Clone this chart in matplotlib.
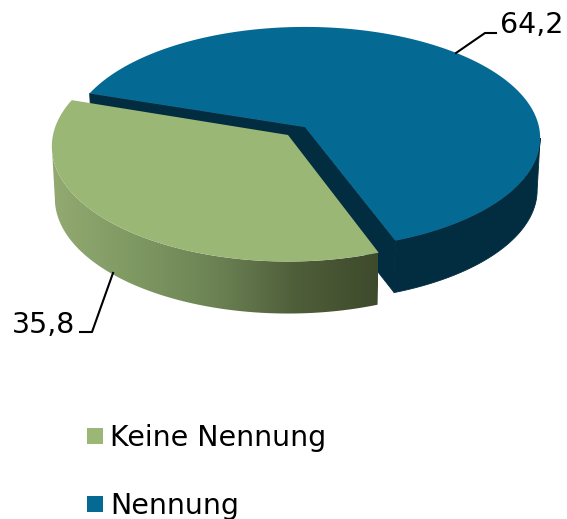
import matplotlib
matplotlib.use("Agg")
import matplotlib.pyplot as plt
import numpy as np
from matplotlib.colors import LinearSegmentedColormap
from matplotlib.patches import Polygon, Rectangle

categories = ["Keine Nennung", "Nennung"]
values = [35.8, 64.2]
value_labels = ["35,8", "64,2"]

GREEN = "#9bb776"
BLUE = "#046a94"
BLUE_SIDE = "#022c40"
START = -69.5  # angle where the blue slice starts
K = 0.099  # perspective of the tilted disc


def arc(cx, cy, rx, ry, a0, a1, n=200):
    # circle seen in perspective, (cx, cy) is the slice tip
    t = np.radians(np.linspace(a0, a1, n))
    d = 1 + K * np.sin(t)
    return np.column_stack([cx + rx * np.cos(t) / d, cy - ry * np.sin(t) / d])


# everything in pixels of the reference, y pointing down
fig = plt.figure(figsize=(5.67, 5.19), dpi=100)
ax = fig.add_axes([0, 0, 1, 1])
ax.axis("off")

blue_span = values[1] / sum(values) * 360
green_span = values[0] / sum(values) * 360
b0, b1 = START, START + blue_span
g0, g1 = b1, b1 + green_span
edge = np.degrees(np.arcsin(K))  # where the rim is widest on screen

# blue slice, walls first
bv = np.array([305, 127])
bv2 = np.array([305, 179])
btop = arc(*bv, 234, 110, b0, b1)
bbot = arc(*bv2, 231, 110, b0, b1)
bwall_top = arc(*bv, 234, 110, b0, -edge)
bwall_bot = arc(*bv2, 231, 110, b0, -edge)
walls = [np.vstack([bwall_top, bwall_bot[::-1]]),
         [bv, btop[0], bbot[0], bv2],
         [bv, btop[-1], bbot[-1], bv2]]
for w in walls:
    ax.add_patch(Polygon(w, fc=BLUE_SIDE, ec=BLUE_SIDE, lw=0.6, zorder=1))
ax.add_patch(Polygon(np.vstack([bv, btop]), fc=BLUE, ec="none", zorder=2))

# green slice, outer wall with a left to right shading
gv = np.array([288, 135])
gv2 = np.array([288, 187])
gtop = arc(*gv, 235, 114, g0, g1)
gwall_top = arc(*gv, 235, 114, 180 + edge, g1)
gwall_bot = arc(*gv2, 232, 114, 180 + edge, g1)
shade = LinearSegmentedColormap.from_list(
    "shade", ["#93a971", "#7f9963", "#6c8254", "#4f5e3a", "#3e4a2c"])
im = ax.imshow(np.linspace(0, 1, 256)[None, :], cmap=shade, aspect="auto",
               extent=[52, 378, 320, 140], zorder=3)
side = Polygon(np.vstack([gwall_top, gwall_bot[::-1]]), fc="none", ec="none", zorder=3)
ax.add_patch(side)
im.set_clip_path(side)
ax.add_patch(Polygon(np.vstack([gv, gtop]), fc=GREEN, ec="none", zorder=4))

# leader lines and value labels
ax.plot([456, 485, 496], [53, 33, 33], color="black", lw=1.5, zorder=5)
ax.plot([113, 92, 80], [273, 332, 332], color="black", lw=1.5, zorder=5)
ax.text(500, 33, value_labels[1], fontsize=20.5, ha="left", va="baseline", family="DejaVu Sans")
ax.text(12, 333, value_labels[0], fontsize=20.5, ha="left", va="baseline", family="DejaVu Sans")

# legend
for name, col, y in zip(categories, [GREEN, BLUE], [428, 496]):
    ax.add_patch(Rectangle((87, y), 16, 16, fc=col, ec="none"))
    ax.text(110, y + 18, name, fontsize=20.5, ha="left", va="baseline", family="DejaVu Sans")

ax.set_xlim(0, 567)
ax.set_ylim(519, 0)
fig.savefig("out.png", dpi=100)
